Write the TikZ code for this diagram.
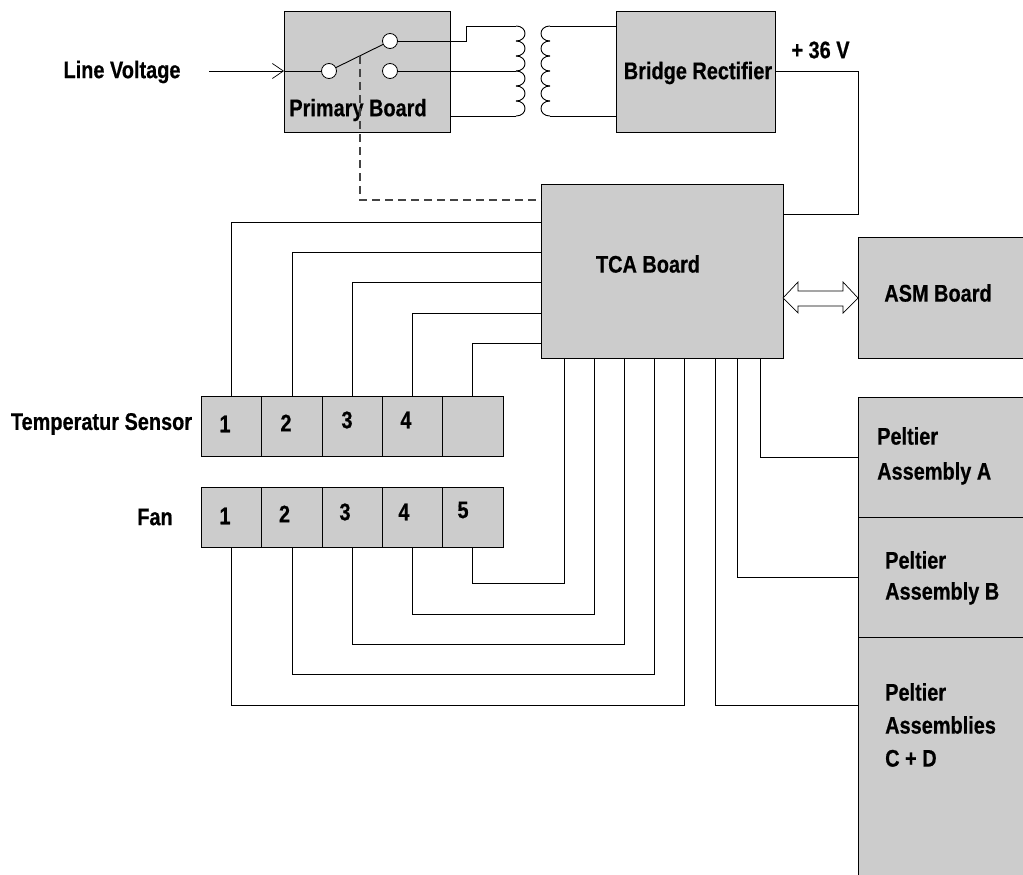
\documentclass[tikz,border=0pt]{standalone}
\usepackage{fontspec}
\setmainfont{Liberation Sans}[BoldFont={Liberation Sans Bold},BoldFeatures={FakeStretch=0.83,FakeBold=0.5}]
\usetikzlibrary{arrows.meta}
\definecolor{boxgray}{HTML}{CCCCCC}
\definecolor{dashgray}{HTML}{444444}
\tikzset{
  wire/.style={draw=black,line width=0.9pt},
  box/.style={draw=black,fill=boxgray,line width=0.9pt,inner sep=0pt,outer sep=0pt,anchor=north west},
  cell/.style={box,minimum width=60.3pt,minimum height=60pt},
  lbl/.style={font=\fontsize{24}{24}\selectfont\bfseries,text=black,inner sep=0pt,align=left},
  terminal/.style={circle,draw=black,fill=white,line width=0.8pt,minimum size=15pt,inner sep=0pt,outer sep=0pt},
}
\begin{document}
\begin{tikzpicture}[x=1pt,y=-1pt]
\useasboundingbox (0,0) rectangle (1023,875);
% boxes
\node[box,minimum width=166pt,minimum height=121pt] (prim) at (284,11) {};
\node[box,minimum width=159pt,minimum height=121pt] (rect) at (616,11) {};
\node[box,minimum width=242pt,minimum height=174pt] (tca) at (541,184) {};
\node[box,minimum width=166pt,minimum height=121pt] (asm) at (858,237) {};
\node[box,minimum width=166pt,minimum height=120pt] (pa) at (858,397) {};
\node[box,minimum width=166pt,minimum height=120pt] (pb) at (858,517) {};
\node[box,minimum width=166pt,minimum height=240pt] (pc) at (858,637) {};
% cells
\foreach \i/\x in {1/201.5,2/261.8,3/322.1,4/382.4,5/442.7}{
  \node[cell] (s\i) at (\x,396) {};
  \node[cell] (f\i) at (\x,487) {};
}
% terminals
\node[terminal] (t1) at (329,71) {};
\node[terminal] (t2) at (390,41) {};
\node[terminal] (t3) at (390,71) {};
% labels
\node[lbl] (lv) at (122,72) {Line Voltage};
\node[lbl] (lprim) at (358,110) {Primary Board};
\node[lbl] (lrect) at (698,73) {Bridge Rectifier};
\node[lbl] (l36) at (820.5,50) {+ 36 V};
\node[lbl] (ltca) at (648,264) {TCA Board};
\node[lbl] (lasm) at (938,293) {ASM Board};
\node[lbl] (lts) at (101.5,424) {Temperatur Sensor};
\node[lbl] (lfan) at (155,517) {Fan};
\foreach \n/\t/\x/\y in {a/1/225/424,b/2/286/423,c/3/347/420,d/4/406/420,e/1/225/516,f/2/284.5/514,g/3/345/512,h/4/404/512,i/5/463/510}{
  \node[lbl] (n\n) at (\x,\y) {\t};
}
\node[lbl,font=\fontsize{24}{35}\selectfont\bfseries,anchor=north west] (lpa) at (877,427) {Peltier\\Assembly A};
\node[lbl,font=\fontsize{24}{31}\selectfont\bfseries,anchor=north west] (lpb) at (885,551) {Peltier\\Assembly B};
\node[lbl,font=\fontsize{24}{33}\selectfont\bfseries,anchor=north west] (lpc) at (885,683) {Peltier\\Assemblies\\C + D};
% line voltage and switch
\coordinate (lvstart) at (209,71);
\draw[wire,-{Straight Barb[length=11pt,width=15pt,line width=0.7pt]}] (lvstart) -- (prim.west |- lvstart);
\draw[wire] (prim.west |- t1) -- (t1);
\draw[wire] (t1) -- (t2);
% transformer
\coordinate (lt) at (516,26);
\coordinate (lm) at (516,71);
\coordinate (lb) at (516,116);
\coordinate (rt) at (550,26);
\coordinate (rb) at (550,116);
\draw[wire] (t2) -- (466,41) -- (466,26) -- (lt);
\draw[wire] (t3) -- (lm);
\draw[wire] (prim.east |- lb) -- (lb);
\draw[wire] (rt) -- (rect.west |- rt);
\draw[wire] (rb) -- (rect.west |- rb);
\foreach \y in {26,41,56,71,86,101}{
  \draw[wire] (516,\y) .. controls (528,\y) and (528,\y+15) .. (516,\y+15);
  \draw[wire] (550,\y) .. controls (538,\y) and (538,\y+15) .. (550,\y+15);
}
% dashed link
\coordinate (dtop) at (360,56);
\draw[draw=dashgray,line width=1.1pt,dash pattern=on 8pt off 5pt] (dtop) -- (360,200) -- (tca.west |- 0,200);
% power wire
\draw[wire] (rect.east |- 0,71) -- (858,71) -- (858,214) -- (tca.east |- 0,214);
% sensor wires
\draw[wire] (s1.north) |- (tca.west |- 0,222);
\draw[wire] (s2.north) |- (tca.west |- 0,252);
\draw[wire] (s3.north) |- (tca.west |- 0,282);
\draw[wire] (s4.north) |- (tca.west |- 0,313);
\draw[wire] (s5.north) |- (tca.west |- 0,343);
% fan wires
\draw[wire] (f5.south) |- (564,583) -- (tca.south -| 564,0);
\draw[wire] (f4.south) |- (594,614) -- (tca.south -| 594,0);
\draw[wire] (f3.south) |- (624,644) -- (tca.south -| 624,0);
\draw[wire] (f2.south) |- (654,674) -- (tca.south -| 654,0);
\draw[wire] (f1.south) |- (684,705) -- (tca.south -| 684,0);
% peltier wires
\draw[wire] (tca.south -| 715,0) |- (pc.west |- 0,705);
\draw[wire] (tca.south -| 737,0) |- (pb.west |- 0,577);
\draw[wire] (tca.south -| 760,0) |- (pa.west |- 0,457);
% double arrow
\draw[draw=black,fill=white,line width=0.7pt] (tca.east |- 0,298) -- (798,282) -- (798,291) -- (843,291) -- (843,282) -- (asm.west |- 0,298) -- (843,313) -- (843,306) -- (798,306) -- (798,313) -- cycle;
\end{tikzpicture}
\end{document}
